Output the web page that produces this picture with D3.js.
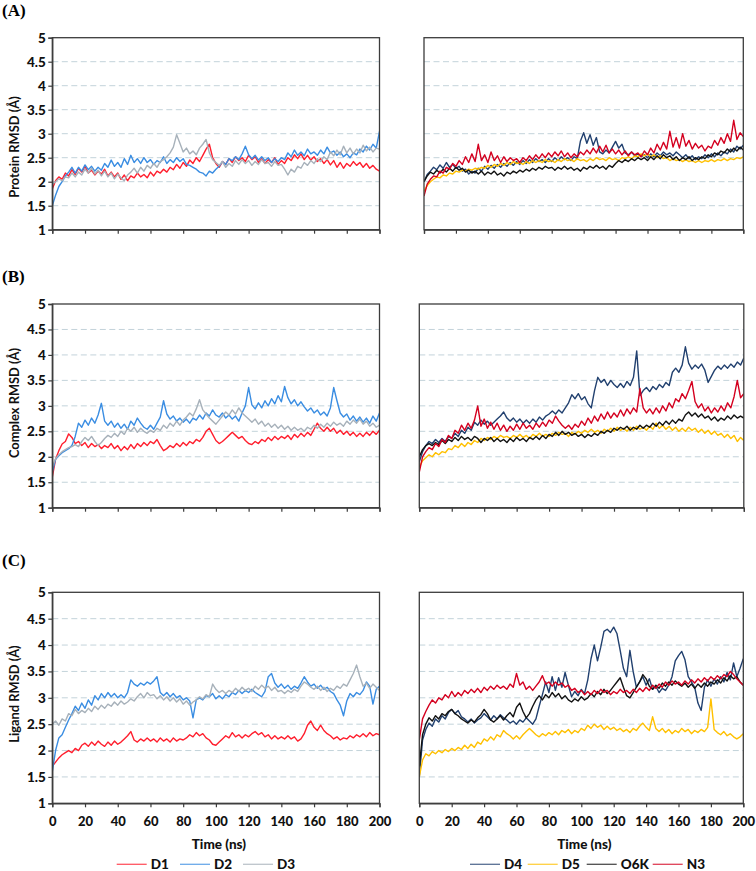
<!DOCTYPE html>
<html><head><meta charset="utf-8">
<script src="https://cdn.jsdelivr.net/npm/d3@7"></script>
<style>body{margin:0;background:#fff} svg{display:block}</style>
</head><body><svg id="c" width="756" height="871"></svg>
<script>
// ---------- DATA (RMSD in Å, sampled every 2 ns from 0 to 200 ns) ----------
const timeNs = d3.range(0, 201, 2);
const xTicks = [0,20,40,60,80,100,120,140,160,180,200];
const yTicks = [1,1.5,2,2.5,3,3.5,4,4.5,5];
const leftNames = ["D1","D2","D3"];
const rightNames = ["D4","D5","O6K","N3"];

// (A) Protein RMSD
const protD1 = [1.85,2.02,2.10,2.05,2.18,2.12,2.25,2.15,2.28,2.20,2.32,2.18,2.24,2.14,2.22,2.16,2.26,2.12,2.20,2.10,2.18,2.05,2.14,2.02,2.12,2.08,2.18,2.10,2.15,2.08,2.20,2.12,2.22,2.18,2.26,2.20,2.30,2.25,2.36,2.28,2.40,2.32,2.45,2.38,2.50,2.42,2.55,2.68,2.78,2.50,2.38,2.30,2.42,2.36,2.48,2.40,2.52,2.44,2.50,2.42,2.55,2.46,2.52,2.40,2.48,2.38,2.46,2.40,2.50,2.36,2.44,2.38,2.50,2.44,2.56,2.48,2.58,2.46,2.55,2.45,2.52,2.42,2.48,2.38,2.46,2.35,2.44,2.30,2.40,2.28,2.38,2.32,2.42,2.34,2.40,2.30,2.38,2.28,2.34,2.26,2.22];
const protD2 = [1.50,1.72,1.90,2.00,2.12,2.20,2.30,2.18,2.30,2.22,2.35,2.25,2.32,2.22,2.30,2.24,2.38,2.30,2.45,2.32,2.40,2.30,2.48,2.36,2.55,2.40,2.48,2.38,2.50,2.40,2.46,2.36,2.44,2.40,2.52,2.38,2.46,2.40,2.50,2.42,2.48,2.36,2.34,2.30,2.26,2.20,2.18,2.12,2.22,2.18,2.26,2.32,2.42,2.36,2.48,2.44,2.52,2.46,2.58,2.74,2.56,2.48,2.55,2.45,2.52,2.44,2.50,2.40,2.48,2.42,2.50,2.46,2.60,2.52,2.66,2.55,2.62,2.54,2.68,2.58,2.62,2.55,2.66,2.58,2.72,2.60,2.64,2.55,2.62,2.52,2.58,2.50,2.60,2.56,2.68,2.62,2.74,2.66,2.78,2.70,3.05];
const protD3 = [1.95,2.00,2.06,2.02,2.10,2.08,2.18,2.10,2.20,2.14,2.26,2.18,2.28,2.16,2.24,2.12,2.22,2.10,2.18,2.06,2.16,2.08,2.02,2.14,2.20,2.28,2.18,2.30,2.22,2.34,2.28,2.38,2.30,2.42,2.46,2.52,2.60,2.72,2.98,2.80,2.62,2.70,2.58,2.64,2.56,2.70,2.78,2.88,2.60,2.46,2.40,2.34,2.42,2.30,2.38,2.32,2.44,2.36,2.46,2.38,2.44,2.34,2.42,2.36,2.46,2.38,2.40,2.32,2.42,2.34,2.36,2.26,2.14,2.26,2.20,2.32,2.28,2.40,2.34,2.44,2.38,2.48,2.42,2.52,2.46,2.62,2.54,2.66,2.56,2.74,2.60,2.70,2.58,2.68,2.60,2.76,2.64,2.72,2.62,2.70,2.68];
const protD4 = [2.00,2.15,2.22,2.30,2.25,2.35,2.28,2.40,2.30,2.36,2.28,2.32,2.22,2.26,2.16,2.22,2.18,2.28,2.22,2.32,2.26,2.34,2.28,2.36,2.30,2.38,2.32,2.40,2.34,2.42,2.36,2.44,2.38,2.46,2.40,2.48,2.42,2.46,2.40,2.48,2.42,2.50,2.44,2.52,2.46,2.50,2.44,2.52,2.48,2.85,3.02,2.80,2.98,2.76,2.92,2.62,2.58,2.66,2.60,2.72,2.84,2.70,2.78,2.60,2.56,2.62,2.54,2.58,2.52,2.56,2.50,2.58,2.52,2.60,2.54,2.62,2.56,2.60,2.54,2.62,2.56,2.50,2.56,2.48,2.54,2.46,2.52,2.48,2.56,2.50,2.58,2.52,2.60,2.54,2.62,2.58,2.68,2.62,2.74,2.68,2.76];
const protD5 = [1.80,1.92,2.00,2.05,2.10,2.08,2.14,2.12,2.18,2.16,2.22,2.20,2.24,2.22,2.26,2.24,2.28,2.26,2.30,2.28,2.34,2.30,2.36,2.32,2.38,2.34,2.40,2.36,2.42,2.38,2.40,2.36,2.42,2.38,2.44,2.40,2.44,2.40,2.46,2.42,2.44,2.40,2.46,2.42,2.48,2.44,2.46,2.42,2.48,2.44,2.46,2.42,2.48,2.44,2.50,2.46,2.48,2.44,2.50,2.46,2.48,2.44,2.50,2.48,2.52,2.48,2.54,2.52,2.58,2.54,2.58,2.52,2.56,2.50,2.54,2.48,2.50,2.44,2.48,2.44,2.46,2.42,2.46,2.42,2.44,2.40,2.44,2.40,2.44,2.42,2.46,2.42,2.46,2.44,2.48,2.44,2.48,2.46,2.50,2.48,2.52];
const protO6K = [2.00,2.12,2.20,2.16,2.24,2.18,2.26,2.20,2.28,2.22,2.30,2.24,2.28,2.20,2.24,2.18,2.22,2.16,2.22,2.14,2.20,2.16,2.22,2.14,2.18,2.12,2.20,2.16,2.22,2.18,2.24,2.20,2.26,2.22,2.28,2.24,2.30,2.26,2.32,2.28,2.30,2.24,2.30,2.26,2.32,2.26,2.30,2.24,2.28,2.22,2.30,2.26,2.32,2.28,2.34,2.28,2.32,2.26,2.34,2.30,2.38,2.44,2.40,2.46,2.42,2.48,2.44,2.50,2.46,2.50,2.44,2.52,2.46,2.54,2.48,2.56,2.50,2.54,2.46,2.52,2.44,2.50,2.46,2.52,2.44,2.50,2.46,2.52,2.48,2.56,2.52,2.60,2.56,2.64,2.60,2.68,2.62,2.70,2.64,2.72,2.66];
const protN3 = [1.70,1.95,2.05,2.12,2.10,2.22,2.18,2.30,2.26,2.38,2.32,2.44,2.36,2.52,2.40,2.58,2.42,2.78,2.44,2.56,2.40,2.62,2.44,2.54,2.40,2.52,2.42,2.50,2.44,2.48,2.40,2.50,2.44,2.54,2.46,2.56,2.48,2.58,2.50,2.60,2.52,2.62,2.54,2.64,2.52,2.60,2.50,2.58,2.52,2.62,2.56,2.66,2.58,2.70,2.60,2.74,2.62,2.76,2.60,2.68,2.58,2.66,2.56,2.64,2.54,2.62,2.56,2.60,2.52,2.64,2.56,2.70,2.60,2.78,2.66,2.82,2.68,3.05,2.72,2.92,2.70,3.00,2.74,2.86,2.68,2.80,2.70,2.76,2.64,2.74,2.70,2.86,2.76,2.92,2.80,3.00,2.84,3.28,2.88,3.02,2.94];

// (B) Complex RMSD
const cplxD1 = [1.60,1.95,2.12,2.25,2.30,2.45,2.38,2.26,2.30,2.22,2.28,2.18,2.26,2.20,2.24,2.16,2.22,2.18,2.26,2.16,2.22,2.12,2.20,2.14,2.24,2.16,2.26,2.20,2.28,2.22,2.30,2.26,2.34,2.22,2.12,2.16,2.22,2.18,2.26,2.20,2.28,2.22,2.30,2.26,2.34,2.30,2.38,2.50,2.56,2.44,2.32,2.26,2.30,2.36,2.42,2.48,2.42,2.36,2.40,2.32,2.26,2.24,2.30,2.26,2.34,2.30,2.38,2.32,2.40,2.34,2.40,2.36,2.42,2.34,2.44,2.38,2.46,2.40,2.48,2.42,2.54,2.66,2.56,2.50,2.58,2.50,2.56,2.46,2.52,2.44,2.50,2.42,2.48,2.40,2.46,2.40,2.48,2.42,2.50,2.44,2.52];
const cplxD2 = [1.70,1.95,2.02,2.08,2.12,2.16,2.22,2.40,2.66,2.58,2.72,2.62,2.76,2.66,2.82,3.05,2.70,2.62,2.70,2.58,2.66,2.56,2.64,2.54,2.70,2.62,2.76,2.66,2.58,2.54,2.62,2.54,2.66,2.78,3.10,2.84,2.74,2.80,2.70,2.76,2.68,2.74,2.66,2.76,2.72,2.82,2.74,2.86,2.80,2.92,2.82,2.78,2.86,2.76,2.82,2.74,2.80,2.70,2.86,3.00,3.36,3.02,2.94,3.06,2.96,3.10,3.00,3.14,3.04,3.20,3.08,3.38,3.16,3.04,3.12,3.00,3.08,2.98,2.90,2.96,2.86,2.92,2.82,2.88,2.80,2.96,3.36,3.10,2.86,2.78,2.84,2.72,2.80,2.70,2.78,2.68,2.76,2.66,2.80,2.70,2.86];
const cplxD3 = [1.80,1.96,2.04,2.10,2.14,2.18,2.20,2.24,2.20,2.30,2.38,2.32,2.40,2.30,2.22,2.28,2.36,2.42,2.38,2.46,2.40,2.50,2.44,2.56,2.50,2.58,2.48,2.56,2.50,2.46,2.52,2.48,2.56,2.52,2.62,2.56,2.66,2.60,2.70,2.62,2.72,2.78,2.86,2.80,2.94,3.12,2.92,2.84,2.76,2.70,2.64,2.72,2.80,2.88,2.82,2.92,2.84,2.96,2.86,2.80,2.74,2.68,2.74,2.64,2.70,2.60,2.66,2.58,2.64,2.56,2.62,2.54,2.60,2.52,2.58,2.52,2.56,2.50,2.58,2.54,2.62,2.56,2.64,2.58,2.66,2.60,2.68,2.62,2.66,2.60,2.70,2.64,2.72,2.66,2.74,2.64,2.70,2.60,2.66,2.58,2.62];
const cplxD4 = [1.90,2.10,2.22,2.30,2.26,2.34,2.28,2.36,2.30,2.40,2.36,2.46,2.40,2.52,2.46,2.58,2.52,2.68,2.62,2.72,2.64,2.70,2.62,2.68,2.74,2.80,2.88,2.76,2.70,2.76,2.68,2.74,2.66,2.72,2.66,2.74,2.68,2.78,2.72,2.80,2.84,2.90,2.84,2.92,2.86,2.96,3.06,3.22,3.14,3.24,3.12,3.18,3.04,2.96,3.30,3.56,3.46,3.52,3.40,3.50,3.42,3.36,3.44,3.36,3.48,3.40,3.56,4.08,3.20,3.30,3.36,3.28,3.38,3.32,3.42,3.36,3.46,3.40,3.66,3.74,3.66,3.80,4.16,3.84,3.72,3.80,3.74,3.82,3.70,3.46,3.58,3.70,3.78,3.72,3.80,3.74,3.82,3.76,3.86,3.80,3.94];
const cplxD5 = [1.80,1.92,1.98,2.04,2.00,2.08,2.04,2.10,2.08,2.16,2.14,2.22,2.18,2.26,2.20,2.28,2.24,2.32,2.28,2.36,2.32,2.38,2.34,2.40,2.36,2.42,2.38,2.40,2.36,2.42,2.38,2.44,2.38,2.42,2.36,2.44,2.40,2.46,2.40,2.44,2.40,2.46,2.42,2.48,2.44,2.46,2.40,2.48,2.44,2.50,2.46,2.52,2.48,2.54,2.48,2.52,2.46,2.54,2.50,2.56,2.50,2.58,2.52,2.56,2.50,2.58,2.52,2.60,2.54,2.58,2.52,2.60,2.54,2.66,2.56,2.62,2.54,2.60,2.52,2.58,2.50,2.56,2.50,2.58,2.52,2.56,2.48,2.54,2.46,2.52,2.44,2.50,2.42,2.46,2.38,2.44,2.36,2.42,2.30,2.38,2.32];
const cplxO6K = [2.00,2.14,2.22,2.26,2.22,2.28,2.24,2.32,2.26,2.34,2.30,2.38,2.32,2.40,2.34,2.38,2.32,2.40,2.36,2.28,2.36,2.32,2.38,2.30,2.36,2.30,2.34,2.28,2.36,2.30,2.38,2.32,2.36,2.30,2.38,2.34,2.40,2.34,2.42,2.36,2.44,2.40,2.48,2.42,2.50,2.44,2.48,2.42,2.46,2.40,2.44,2.38,2.44,2.40,2.46,2.42,2.50,2.46,2.52,2.48,2.56,2.52,2.58,2.54,2.60,2.52,2.58,2.54,2.62,2.56,2.62,2.58,2.66,2.60,2.68,2.62,2.70,2.64,2.72,2.66,2.74,2.70,2.82,2.88,2.80,2.86,2.78,2.84,2.76,2.80,2.72,2.78,2.70,2.76,2.72,2.80,2.74,2.82,2.76,2.80,2.76];
const cplxN3 = [1.70,2.00,2.10,2.18,2.14,2.26,2.20,2.34,2.28,2.42,2.36,2.52,2.46,2.62,2.52,2.66,2.56,2.72,3.00,2.60,2.74,2.56,2.68,2.54,2.66,2.52,2.62,2.50,2.60,2.52,2.64,2.54,2.66,2.56,2.62,2.54,2.66,2.58,2.68,2.60,2.72,2.66,2.80,2.70,2.62,2.56,2.62,2.54,2.64,2.58,2.70,2.62,2.76,2.66,2.80,2.70,2.84,2.74,2.88,2.76,2.86,2.78,2.92,2.80,2.94,2.84,2.96,2.88,3.34,2.96,2.86,2.94,2.84,2.96,2.86,3.00,2.90,3.06,2.96,3.14,3.08,3.24,3.14,3.30,3.48,3.08,2.96,3.04,2.90,2.98,2.86,2.96,2.88,3.00,2.90,3.06,2.96,3.18,3.50,3.16,3.24];

// (C) Ligand RMSD
const ligD1 = [1.70,1.78,1.86,1.92,1.96,2.00,1.96,2.04,2.00,2.10,2.14,2.08,2.16,2.10,2.18,2.12,2.08,2.16,2.10,2.18,2.12,2.16,2.22,2.28,2.36,2.20,2.16,2.22,2.18,2.24,2.18,2.22,2.16,2.24,2.18,2.22,2.16,2.24,2.18,2.22,2.20,2.24,2.30,2.26,2.34,2.28,2.32,2.24,2.20,2.12,2.10,2.16,2.22,2.28,2.24,2.34,2.26,2.30,2.24,2.30,2.26,2.32,2.36,2.30,2.34,2.26,2.30,2.22,2.28,2.22,2.26,2.22,2.28,2.22,2.26,2.18,2.22,2.32,2.48,2.56,2.44,2.38,2.48,2.38,2.32,2.28,2.22,2.26,2.20,2.24,2.22,2.28,2.24,2.30,2.26,2.32,2.26,2.34,2.28,2.32,2.30];
const ligD2 = [1.60,2.00,2.24,2.30,2.44,2.58,2.70,2.84,2.76,2.90,2.80,2.96,2.86,3.04,2.96,3.08,3.00,3.10,3.02,3.08,3.00,3.06,3.00,3.10,3.34,3.26,3.22,3.28,3.24,3.30,3.26,3.32,3.40,3.10,3.04,3.10,3.02,3.08,3.00,3.04,2.96,3.00,2.94,2.62,2.96,3.00,2.96,3.04,3.02,3.08,2.98,3.04,2.98,3.06,3.02,3.10,3.06,3.14,3.08,3.14,3.10,3.16,3.10,3.06,3.02,3.12,3.40,3.46,3.28,3.20,3.26,3.18,3.24,3.16,3.22,3.18,3.28,3.40,3.30,3.22,3.26,3.18,3.24,3.16,3.20,3.12,3.08,2.96,2.86,2.66,2.94,3.08,3.02,3.10,3.06,3.14,3.30,3.22,2.88,3.16,3.22];
const ligD3 = [2.50,2.56,2.48,2.60,2.56,2.70,2.66,2.78,2.70,2.76,2.72,2.80,2.74,2.84,2.78,2.86,2.80,2.88,2.84,2.92,2.86,2.94,2.88,2.92,2.98,2.94,3.02,3.08,3.00,3.10,3.04,3.06,2.98,3.04,2.96,3.02,2.94,3.00,2.92,2.98,2.88,2.94,2.86,2.92,2.96,3.02,2.98,3.06,3.02,3.26,3.16,3.10,3.14,3.08,3.14,3.10,3.18,3.12,3.20,3.14,3.18,3.12,3.22,3.16,3.24,3.18,3.22,3.14,3.20,3.12,3.14,3.08,3.14,3.10,3.16,3.12,3.22,3.30,3.26,3.20,3.16,3.22,3.14,3.20,3.12,3.18,3.14,3.22,3.18,3.26,3.22,3.34,3.46,3.62,3.40,3.22,3.28,3.18,3.26,3.20,3.14];
const ligD4 = [1.50,2.20,2.40,2.52,2.46,2.60,2.54,2.66,2.60,2.72,2.78,2.70,2.76,2.64,2.60,2.54,2.60,2.52,2.58,2.62,2.70,2.64,2.58,2.66,2.60,2.68,2.62,2.58,2.52,2.56,2.50,2.58,2.54,2.62,2.56,2.50,2.60,2.84,3.06,3.30,3.10,3.40,3.14,3.38,3.20,3.48,3.24,3.02,3.12,3.04,3.16,3.08,3.34,3.74,4.00,3.70,3.96,4.26,4.30,4.24,4.34,4.22,3.90,3.56,3.40,3.90,3.50,3.20,3.30,3.40,3.24,3.36,3.16,3.22,3.10,3.18,3.14,3.24,3.40,3.70,3.80,3.88,3.72,3.40,3.30,3.20,2.90,2.76,3.20,3.34,3.22,3.36,3.26,3.40,3.30,3.48,3.34,3.66,3.40,3.56,3.74];
const ligD5 = [1.50,1.82,1.94,1.90,1.98,1.94,2.00,1.96,2.02,1.98,2.04,2.00,2.06,2.02,2.10,2.04,2.12,2.06,2.16,2.12,2.22,2.18,2.26,2.20,2.30,2.26,2.38,2.32,2.28,2.22,2.28,2.22,2.30,2.36,2.42,2.36,2.30,2.26,2.32,2.28,2.34,2.30,2.36,2.30,2.38,2.34,2.40,2.32,2.38,2.34,2.42,2.38,2.48,2.42,2.50,2.44,2.48,2.40,2.46,2.40,2.44,2.38,2.42,2.36,2.40,2.34,2.42,2.38,2.46,2.52,2.44,2.38,2.64,2.42,2.36,2.42,2.34,2.40,2.32,2.38,2.34,2.42,2.36,2.40,2.32,2.38,2.34,2.40,2.36,2.44,2.98,2.40,2.34,2.30,2.36,2.28,2.32,2.26,2.22,2.26,2.32];
const ligO6K = [1.70,2.30,2.50,2.62,2.56,2.66,2.60,2.70,2.66,2.74,2.78,2.70,2.66,2.60,2.56,2.52,2.58,2.54,2.62,2.68,2.78,2.70,2.58,2.54,2.60,2.66,2.58,2.66,2.72,2.64,2.82,2.90,2.74,2.62,2.70,2.84,2.96,3.04,2.96,3.06,3.00,3.10,3.02,3.08,2.98,3.04,2.96,2.92,2.98,2.94,3.02,2.96,3.00,3.08,3.02,3.12,3.06,3.16,3.08,3.14,3.22,3.30,3.38,3.20,3.04,3.00,3.10,3.20,3.30,3.44,3.36,3.22,3.16,3.24,3.18,3.28,3.22,3.30,3.24,3.32,3.26,3.22,3.28,3.20,3.26,3.18,3.26,3.20,3.28,3.22,3.30,3.26,3.34,3.28,3.38,3.32,3.42,3.36,3.40,3.30,3.24];
const ligN3 = [2.20,2.60,2.74,2.86,2.96,2.90,3.00,2.96,3.06,3.00,3.12,3.02,3.10,3.04,3.14,3.08,3.16,3.10,3.18,3.10,3.20,3.14,3.22,3.16,3.24,3.18,3.22,3.16,3.26,3.20,3.46,3.24,3.30,3.16,3.22,3.14,3.22,3.30,3.42,3.26,3.30,3.22,3.30,3.24,3.28,3.20,3.24,3.14,3.18,3.10,3.14,3.06,3.12,3.06,3.14,3.08,3.16,3.10,3.14,3.06,3.12,3.08,3.16,3.10,3.14,3.08,3.16,3.10,3.18,3.12,3.20,3.14,3.24,3.18,3.26,3.20,3.30,3.24,3.32,3.26,3.30,3.24,3.32,3.26,3.34,3.28,3.36,3.30,3.38,3.32,3.40,3.34,3.42,3.36,3.44,3.40,3.50,3.44,3.36,3.30,3.24];

// ---------- STYLE / LAYOUT ----------
const colors = {D1:"#ff1e2d", D2:"#3a8de2", D3:"#a7b1ba", D4:"#21406f", D5:"#ffc000", O6K:"#121212", N3:"#d4001f"};
const rows = [
  {label:"(A)", labelY:10, title:"Protein RMSD (Å)", titleY:147, top:37.7, bottom:229.7, showX:false,
   left:[52.3,379.5], right:[424,743.3],
   leftData:{D1:protD1,D2:protD2,D3:protD3}, rightData:{D4:protD4,D5:protD5,O6K:protO6K,N3:protN3}},
  {label:"(B)", labelY:276, title:"Complex RMSD (Å)", titleY:403, top:304, bottom:507.7, showX:false,
   left:[52.3,379.5], right:[419.3,743.8],
   leftData:{D1:cplxD1,D2:cplxD2,D3:cplxD3}, rightData:{D4:cplxD4,D5:cplxD5,O6K:cplxO6K,N3:cplxN3}},
  {label:"(C)", labelY:560, title:"Ligand RMSD (Å)", titleY:694, top:592.3, bottom:803.3, showX:true,
   left:[52.3,379.5], right:[419.3,743.3],
   leftData:{D1:ligD1,D2:ligD2,D3:ligD3}, rightData:{D4:ligD4,D5:ligD5,O6K:ligO6K,N3:ligN3}}
];
const FONT = "Lato, 'Open Sans', sans-serif";
const svg = d3.select("#c");
let clipId = 0;

function panel(row, xr, names, data, isLeft){
  const x = d3.scaleLinear([0,200], xr);
  const y = d3.scaleLinear([1,5], [row.bottom, row.top]);
  const g = svg.append("g");
  g.append("g").selectAll("line").data(yTicks.filter(v=>v>1&&v<5)).join("line")
    .attr("x1", xr[0]).attr("x2", xr[1]).attr("y1", d=>y(d)).attr("y2", d=>y(d))
    .attr("stroke","#c3d3da").attr("stroke-width",1).attr("stroke-dasharray","6,3.5");
  const id = "clip"+(clipId++);
  svg.append("clipPath").attr("id", id).append("rect")
    .attr("x", xr[0]).attr("y", row.top).attr("width", xr[1]-xr[0]).attr("height", row.bottom-row.top);
  const line = d3.line().x((d,i)=>x(timeNs[i])).y(d=>y(d));
  const lg = g.append("g").attr("clip-path", `url(#${id})`);
  names.forEach(n=>{
    lg.append("path").datum(data[n]).attr("d", line).attr("fill","none")
      .attr("stroke", colors[n]).attr("stroke-width",1.4).attr("stroke-linejoin","round");
  });
  g.append("rect").attr("x", xr[0]).attr("y", row.top).attr("width", xr[1]-xr[0]).attr("height", row.bottom-row.top)
    .attr("fill","none").attr("stroke","#3c3c3c").attr("stroke-width",1.3);
  const xa = g.append("g").attr("transform",`translate(0,${row.bottom})`)
    .call(d3.axisBottom(x).tickValues(xTicks).tickSize(4).tickPadding(9).tickFormat(row.showX? d3.format("d") : ()=>""));
  xa.select(".domain").attr("stroke","#3c3c3c").attr("stroke-width",1.3);
  xa.selectAll(".tick line").attr("stroke","#3c3c3c").attr("stroke-width",1.2);
  xa.selectAll("text").attr("font-family",FONT).attr("font-weight","900").attr("font-size","13px").attr("fill","#111");
  if(isLeft){
    const ya = g.append("g").attr("transform",`translate(${xr[0]},0)`)
      .call(d3.axisLeft(y).tickValues(yTicks).tickSize(4).tickPadding(2.5).tickFormat(d3.format("~g")));
    ya.select(".domain").attr("stroke","#3c3c3c").attr("stroke-width",1.3);
    ya.selectAll(".tick line").attr("stroke","#3c3c3c").attr("stroke-width",1.2);
    ya.selectAll("text").attr("font-family",FONT).attr("font-weight","900").attr("font-size","13.5px").attr("fill","#111");
  }
}

// one font size for all y-axis titles, sized so "Complex RMSD (Å)" spans ~110 px
const probe = svg.append("text").attr("font-family",FONT).attr("font-weight","bold").attr("font-size","12px").text("Complex RMSD (Å)");
const titleSize = 12 * 110 / probe.node().getComputedTextLength();
probe.remove();

rows.forEach(row=>{
  panel(row, row.left, leftNames, row.leftData, true);
  panel(row, row.right, rightNames, row.rightData, false);
  svg.append("text").attr("x",2).attr("y",row.labelY).attr("dy","0.35em")
    .attr("font-family","'Liberation Serif','Times New Roman',serif").attr("font-weight","bold").attr("font-size","17px")
    .text(row.label);
  svg.append("text").attr("transform",`translate(14,${row.titleY}) rotate(-90)`).attr("text-anchor","middle").attr("dy","0.35em")
    .attr("font-family",FONT).attr("font-weight","bold").attr("font-size",titleSize.toFixed(2)+"px").attr("fill","#111").text(row.title);
  if(row.showX){
    [row.left, row.right].forEach(r=>{
      svg.append("text").attr("x",(r[0]+r[1])/2+3).attr("y",844.3).attr("dy","0.35em").attr("text-anchor","middle")
        .attr("font-family",FONT).attr("font-weight","900").attr("font-size","13.5px").attr("fill","#111").text("Time (ns)");
    });
  }
});

function legend(names, xs){
  names.forEach((n,i)=>{
    svg.append("line").attr("x1",xs[i]).attr("x2",xs[i]+30).attr("y1",864.3).attr("y2",864.3)
      .attr("stroke",colors[n]).attr("stroke-width",1.3).attr("opacity",0.75);
    svg.append("text").attr("x",xs[i]+34).attr("y",864.3).attr("dy","0.35em")
      .attr("font-family",FONT).attr("font-weight","900").attr("font-size","13.5px").attr("fill","#111").text(n);
  });
}
legend(leftNames,[116.7,180,243]);
legend(rightNames,[470,527.7,586.7,652.7]);
</script></body></html>
